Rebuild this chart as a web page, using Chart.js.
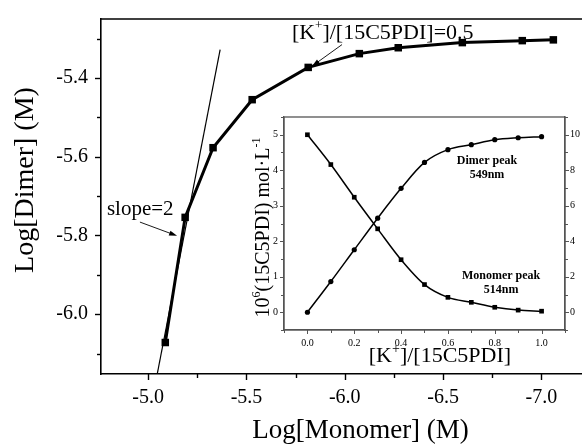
<!DOCTYPE html>
<html>
<head>
<meta charset="utf-8">
<script src="https://cdn.jsdelivr.net/npm/chart.js@4/dist/chart.umd.min.js"></script>
<style>
  body { margin: 0; background: #fff; }
  #wrap { position: relative; width: 582px; height: 447px; overflow: hidden; background: #fff; }
  #main { position: absolute; left: 0; top: 0; }
  #inset { position: absolute; left: 236px; top: 108px; }
</style>
</head>
<body>
<div id="wrap">
  <canvas id="main" width="620" height="447"></canvas>
  <canvas id="inset" width="360" height="264"></canvas>
</div>
<script>
const SERIF = "'Liberation Serif', 'Times New Roman', serif";

// main plot: log[monomer] vs log[dimer]
const MAIN_X = [-5.087, -5.188, -5.330, -5.529, -5.814, -6.074, -6.272, -6.598, -6.903, -7.061];
const MAIN_Y = [-6.072, -5.754, -5.577, -5.455, -5.373, -5.338, -5.323, -5.310, -5.305, -5.303];
const SLOPE_X = [-5.046, -5.366];
const SLOPE_Y = [-6.152, -5.328];
const MAIN_X_TICKS = [-5.0, -5.5, -6.0, -6.5, -7.0];
const MAIN_Y_TICKS = [-6.0, -5.8, -5.6, -5.4];

// inset: titration
const RATIO = [0, 0.1, 0.2, 0.3, 0.4, 0.5, 0.6, 0.7, 0.8, 0.9, 1.0];
const MONOMER = [5.0, 4.16, 3.24, 2.35, 1.48, 0.78, 0.42, 0.28, 0.14, 0.06, 0.03];
const DIMER = [0, 1.73, 3.52, 5.3, 6.98, 8.44, 9.16, 9.44, 9.72, 9.83, 9.89];
const INSET_X_TICKS = [0, 0.2, 0.4, 0.6, 0.8, 1.0];
const INSET_LEFT_TICKS = [0, 1, 2, 3, 4, 5];
const INSET_RIGHT_TICKS = [0, 2, 4, 6, 8, 10];

const pts = (xs, ys) => xs.map((x, i) => ({ x, y: ys[i] }));
const fixTicks = list => s => { s.ticks = list.map(v => ({ value: v })); };

function arrow(ctx, x1, y1, x2, y2) {
  const a = Math.atan2(y2 - y1, x2 - x1);
  ctx.beginPath();
  ctx.moveTo(x1, y1);
  ctx.lineTo(x2 - 6 * Math.cos(a), y2 - 6 * Math.sin(a));
  ctx.stroke();
  ctx.beginPath();
  ctx.moveTo(x2, y2);
  ctx.lineTo(x2 - 8 * Math.cos(a) + 2.5 * Math.sin(a), y2 - 8 * Math.sin(a) - 2.5 * Math.cos(a));
  ctx.lineTo(x2 - 8 * Math.cos(a) - 2.5 * Math.sin(a), y2 - 8 * Math.sin(a) + 2.5 * Math.cos(a));
  ctx.closePath();
  ctx.fill();
}

// text made of pieces, some raised as superscripts
function richText(ctx, parts, x, y) {
  parts.forEach(([t, f, dy]) => {
    ctx.font = f + 'px ' + SERIF;
    ctx.fillText(t, x, y + dy);
    x += ctx.measureText(t).width;
  });
}
function richWidth(ctx, parts) {
  let w = 0;
  parts.forEach(([t, f]) => { ctx.font = f + 'px ' + SERIF; w += ctx.measureText(t).width; });
  return w;
}

// draws major + minor tick marks outside the axes
const tickMarks = {
  id: 'tickMarks',
  afterDraw(chart, args, opts) {
    const ctx = chart.ctx, ca = chart.chartArea;
    ctx.save();
    ctx.strokeStyle = opts.color;
    ctx.lineWidth = opts.width;
    opts.axes.forEach(a => {
      const s = chart.scales[a.id];
      const marks = [];
      a.major.forEach(v => marks.push([v, a.len]));
      for (let v = Math.ceil(s.min / a.minor) * a.minor; v <= s.max + 1e-9; v += a.minor) {
        if (!a.major.some(m => Math.abs(m - v) < 1e-6)) marks.push([v, a.minorLen]);
      }
      marks.forEach(([v, len]) => {
        const p = Math.round(s.getPixelForValue(v)) + 0.5;
        ctx.beginPath();
        if (a.side === 'bottom') { ctx.moveTo(p, ca.bottom); ctx.lineTo(p, ca.bottom + len); }
        if (a.side === 'left') { ctx.moveTo(ca.left, p); ctx.lineTo(ca.left - len, p); }
        if (a.side === 'right') { ctx.moveTo(ca.right, p); ctx.lineTo(ca.right + len, p); }
        ctx.stroke();
      });
    });
    ctx.restore();
  }
};

const mainNotes = {
  id: 'mainNotes',
  afterDraw(chart) {
    const ctx = chart.ctx, sx = chart.scales.x, sy = chart.scales.y, ca = chart.chartArea;
    const P = (x, y) => [sx.getPixelForValue(x), sy.getPixelForValue(y)];
    ctx.save();
    // top frame line
    ctx.strokeStyle = '#000';
    ctx.lineWidth = 1.6;
    ctx.beginPath();
    ctx.moveTo(ca.left, ca.top);
    ctx.lineTo(ca.right, ca.top);
    ctx.stroke();

    ctx.fillStyle = '#000';
    ctx.textBaseline = 'alphabetic';
    ctx.textAlign = 'left';
    ctx.font = '21px ' + SERIF;
    let [tx, ty] = P(-4.79, -5.748);
    ctx.fillText('slope=2', tx, ty);

    [tx, ty] = P(-5.731, -5.300);
    richText(ctx, [['[K', 22, 0], ['+', 13, -10], [']/[15C5PDI]=0.5', 22, 0]], tx, ty);

    ctx.lineWidth = 0.9;
    arrow(ctx, ...P(-4.958, -5.766), ...P(-5.147, -5.801));
    arrow(ctx, ...P(-5.986, -5.315), ...P(-5.833, -5.370));

    // y axis title
    ctx.translate(33, 180);
    ctx.rotate(-Math.PI / 2);
    ctx.textAlign = 'center';
    ctx.font = '28px ' + SERIF;
    ctx.fillText('Log[Dimer] (M)', 0, 0);
    ctx.restore();
  }
};

new Chart(document.getElementById('main'), {
  type: 'line',
  data: {
    datasets: [
      {
        data: pts(SLOPE_X, SLOPE_Y),
        borderColor: '#000', borderWidth: 1.2, pointRadius: 0, fill: false
      },
      {
        data: pts(MAIN_X, MAIN_Y),
        borderColor: '#000', borderWidth: 3, fill: false,
        pointStyle: 'rect', pointRadius: 5.3, pointBackgroundColor: '#000', pointBorderWidth: 0
      }
    ]
  },
  options: {
    responsive: false,
    animation: false,
    events: [],
    layout: { padding: { top: 12, left: 0, right: 0, bottom: 0 }, autoPadding: false },
    scales: {
      x: {
        type: 'linear', reverse: true, min: -7.4, max: -4.76,
        afterBuildTicks: fixTicks(MAIN_X_TICKS),
        afterFit: s => { s.height = 73; },
        grid: { display: false, tickLength: 6 },
        border: { display: true, color: '#000', width: 1.6 },
        ticks: { color: '#000', padding: 6, maxRotation: 0, font: { family: SERIF, size: 20 }, callback: v => v.toFixed(1) },
        title: { display: true, text: 'Log[Monomer] (M)', color: '#000', padding: { top: 0, bottom: 0 }, font: { family: SERIF, size: 27 } }
      },
      y: {
        type: 'linear', min: -6.152, max: -5.25,
        afterBuildTicks: fixTicks(MAIN_Y_TICKS),
        afterFit: s => { s.width = 101; },
        grid: { display: false, tickLength: 6 },
        border: { display: true, color: '#000', width: 1.6 },
        ticks: { color: '#000', padding: 7, font: { family: SERIF, size: 20 }, callback: v => v.toFixed(1) }
      }
    },
    plugins: {
      legend: { display: false },
      tooltip: { enabled: false },
      tickMarks: {
        color: '#000', width: 1.4,
        axes: [
          { id: 'x', side: 'bottom', major: MAIN_X_TICKS, minor: 0.25, len: 6, minorLen: 4 },
          { id: 'y', side: 'left', major: MAIN_Y_TICKS, minor: 0.1, len: 6, minorLen: 4 }
        ]
      }
    }
  },
  plugins: [tickMarks, mainNotes]
});

const insetBox = {
  id: 'insetBox',
  beforeDraw(chart) {
    const ctx = chart.ctx, ca = chart.chartArea;
    ctx.save();
    ctx.fillStyle = '#fff';
    ctx.fillRect(ca.left, ca.top, ca.right - ca.left, ca.bottom - ca.top);
    ctx.restore();
  },
  afterDraw(chart) {
    const ctx = chart.ctx, ca = chart.chartArea, sx = chart.scales.x, sy = chart.scales.y;
    ctx.save();
    ctx.strokeStyle = '#555';
    ctx.lineWidth = 1.3;
    ctx.strokeRect(ca.left, ca.top, ca.right - ca.left, ca.bottom - ca.top);

    ctx.fillStyle = '#000';
    ctx.textAlign = 'center';
    ctx.textBaseline = 'alphabetic';
    ctx.font = 'bold 12px ' + SERIF;
    ctx.fillText('Dimer peak', sx.getPixelForValue(0.767), sy.getPixelForValue(4.19));
    ctx.fillText('549nm', sx.getPixelForValue(0.767), sy.getPixelForValue(3.77));
    ctx.fillText('Monomer peak', sx.getPixelForValue(0.827), sy.getPixelForValue(0.95));
    ctx.fillText('514nm', sx.getPixelForValue(0.827), sy.getPixelForValue(0.53));

    // x title with superscript
    ctx.textAlign = 'left';
    const parts = [['[K', 22, 0], ['+', 14, -9], [']/[15C5PDI]', 22, 0]];
    richText(ctx, parts, sx.getPixelForValue(0.566) - richWidth(ctx, parts) / 2, ca.bottom + 32);

    // y title rotated
    ctx.translate(33, (ca.top + ca.bottom) / 2 + 4);
    ctx.rotate(-Math.PI / 2);
    const yparts = [['10', 20, 0], ['6', 12, -9], ['(15C5PDI) mol\u00b7L', 20, 0], ['-1', 12, -9]];
    richText(ctx, yparts, -richWidth(ctx, yparts) / 2, 0);
    ctx.restore();
  }
};

new Chart(document.getElementById('inset'), {
  type: 'line',
  data: {
    datasets: [
      {
        data: pts(RATIO, MONOMER), yAxisID: 'y',
        borderColor: '#000', borderWidth: 1.5, cubicInterpolationMode: 'monotone', fill: false,
        pointStyle: 'rect', pointRadius: 3.3, pointBackgroundColor: '#000', pointBorderWidth: 0
      },
      {
        data: pts(RATIO, DIMER), yAxisID: 'y1',
        borderColor: '#000', borderWidth: 1.5, cubicInterpolationMode: 'monotone', fill: false,
        pointStyle: 'circle', pointRadius: 2.6, pointBackgroundColor: '#000', pointBorderWidth: 0
      }
    ]
  },
  options: {
    responsive: false,
    animation: false,
    events: [],
    layout: { padding: { top: 9, left: 0, right: 0, bottom: 0 }, autoPadding: false },
    scales: {
      x: {
        type: 'linear', min: -0.1, max: 1.1,
        afterBuildTicks: fixTicks(INSET_X_TICKS),
        afterFit: s => { s.height = 42; },
        grid: { display: false, tickLength: 4 },
        border: { display: true, color: '#555', width: 1.3 },
        ticks: { color: '#000', padding: 3, maxRotation: 0, font: { family: SERIF, size: 10 }, callback: v => v.toFixed(1) }
      },
      y: {
        type: 'linear', position: 'left', min: -0.5, max: 5.5,
        afterBuildTicks: fixTicks(INSET_LEFT_TICKS),
        afterFit: s => { s.width = 48; },
        grid: { display: false, tickLength: 4 },
        border: { display: true, color: '#555', width: 1.3 },
        ticks: { color: '#000', padding: 2, font: { family: SERIF, size: 10 } }
      },
      y1: {
        type: 'linear', position: 'right', min: -1, max: 11,
        afterBuildTicks: fixTicks(INSET_RIGHT_TICKS),
        afterFit: s => { s.width = 31; },
        grid: { display: false, tickLength: 4 },
        border: { display: true, color: '#555', width: 1.3 },
        ticks: { color: '#000', padding: 1, font: { family: SERIF, size: 10 } }
      }
    },
    plugins: {
      legend: { display: false },
      tooltip: { enabled: false },
      tickMarks: {
        color: '#555', width: 1,
        axes: [
          { id: 'x', side: 'bottom', major: INSET_X_TICKS, minor: 0.1, len: 4, minorLen: 3 },
          { id: 'y', side: 'left', major: INSET_LEFT_TICKS, minor: 0.5, len: 4, minorLen: 3 },
          { id: 'y1', side: 'right', major: INSET_RIGHT_TICKS, minor: 1, len: 4, minorLen: 3 }
        ]
      }
    }
  },
  plugins: [tickMarks, insetBox]
});
</script>
</body>
</html>
